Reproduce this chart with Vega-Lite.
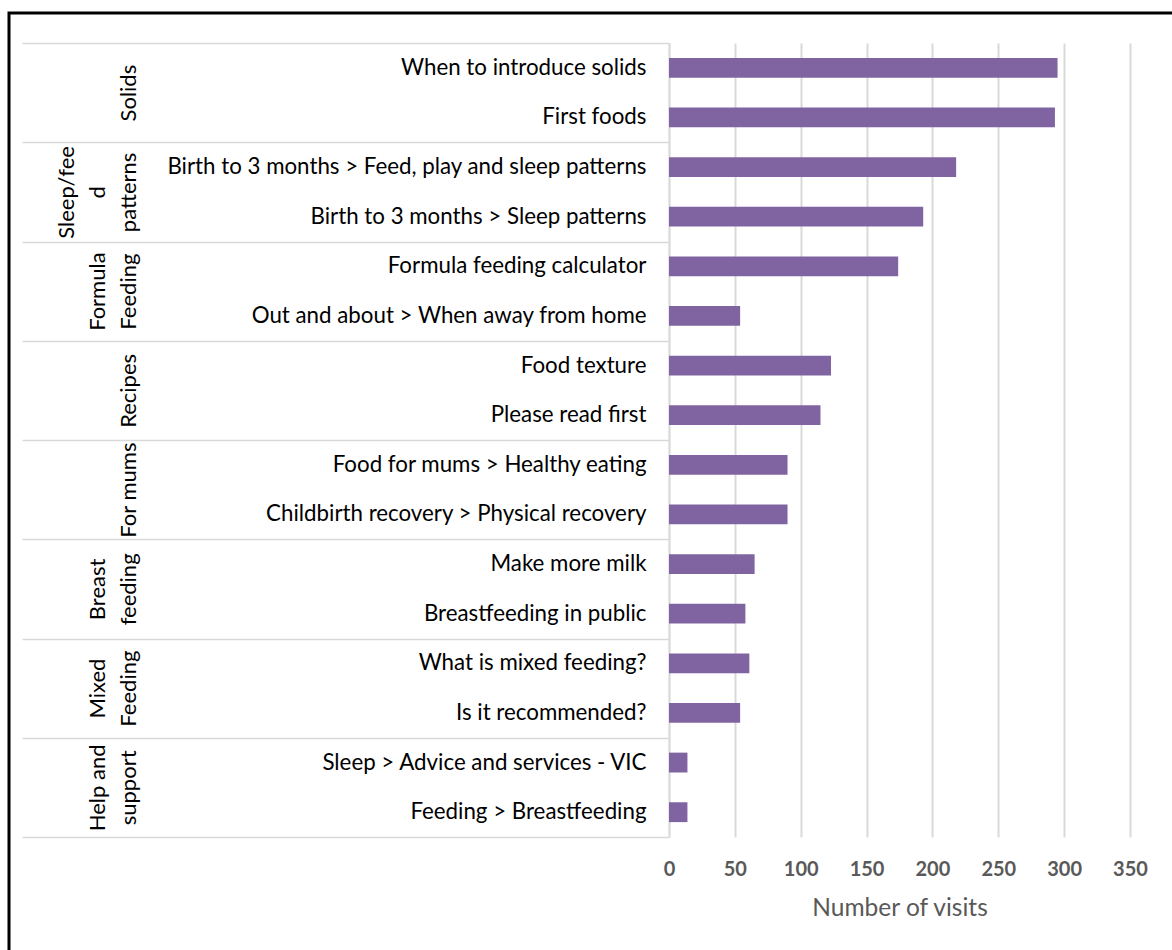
{
  "$schema": "https://vega.github.io/schema/vega-lite/v6.json",
  "autosize": {"type": "none"},
  "width": 1166,
  "height": 940,
  "padding": {"left": 9, "top": 13, "right": -3, "bottom": -3},
  "background": "white",
  "config": {"font": "Lato", "view": {"stroke": "#000000", "strokeWidth": 3}},
  "data": {"values": [
    {"group": "Solids", "item": "When to introduce solids", "visits": 295},
    {"group": "Solids", "item": "First foods", "visits": 293},
    {"group": "Sleep/feed patterns", "item": "Birth to 3 months > Feed, play and sleep patterns", "visits": 218},
    {"group": "Sleep/feed patterns", "item": "Birth to 3 months > Sleep patterns", "visits": 193},
    {"group": "Formula Feeding", "item": "Formula feeding calculator", "visits": 174},
    {"group": "Formula Feeding", "item": "Out and about > When away from home", "visits": 54},
    {"group": "Recipes", "item": "Food texture", "visits": 123},
    {"group": "Recipes", "item": "Please read first", "visits": 115},
    {"group": "For mums", "item": "Food for mums > Healthy eating", "visits": 90},
    {"group": "For mums", "item": "Childbirth recovery > Physical recovery", "visits": 90},
    {"group": "Breast feeding", "item": "Make more milk", "visits": 65},
    {"group": "Breast feeding", "item": "Breastfeeding in public ", "visits": 58},
    {"group": "Mixed Feeding", "item": "What is mixed feeding?", "visits": 61},
    {"group": "Mixed Feeding", "item": "Is it recommended?", "visits": 54},
    {"group": "Help and support", "item": "Sleep > Advice and services - VIC", "visits": 14},
    {"group": "Help and support", "item": "Feeding > Breastfeeding", "visits": 14}
  ]},
  "layer": [
    {
      "mark": {"type": "bar", "color": "#8064a2", "height": {"band": 0.4}},
      "encoding": {
        "y": {
          "field": "item", "type": "nominal", "sort": null,
          "scale": {"range": [30, 824], "paddingInner": 0, "paddingOuter": 0},
          "axis": {"orient": "left", "offset": -660, "title": null, "ticks": false, "domain": true, "domainColor": "#d9d9d9", "domainWidth": 1.5, "labelFontSize": 22.3, "labelColor": "#000000", "labelPadding": 23, "labelLimit": 700, "grid": false}
        },
        "x": {
          "field": "visits", "type": "quantitative",
          "scale": {"domain": [0, 350], "range": [660, 1121], "nice": false, "zero": false},
          "axis": {"orient": "top", "offset": 0, "values": [0, 50, 100, 150, 200, 250, 300, 350], "grid": true, "gridColor": "#d9d9d9", "gridWidth": 2, "ticks": false, "domain": false, "labels": false, "title": null}
        }
      }
    },
    {
      "mark": {"type": "point", "opacity": 0},
      "encoding": {
        "x": {
          "field": "visits", "type": "quantitative",
          "scale": {"domain": [0, 350], "range": [660, 1121], "nice": false, "zero": false},
          "axis": {"orient": "bottom", "values": [0, 50, 100, 150, 200, 250, 300, 350], "grid": false, "ticks": false, "domain": false, "offset": -116, "labelFlush": false, "labelFontSize": 20, "labelFontWeight": "bold", "labelColor": "#595959", "labelPadding": 22, "title": "Number of visits", "titleFontSize": 24.5, "titleFontWeight": "normal", "titleColor": "#595959", "titlePadding": 17}
        },
        "y": {
          "field": "group", "type": "nominal", "sort": null,
          "scale": {"range": [30, 824], "paddingInner": 0, "paddingOuter": 0},
          "axis": {"orient": "left", "offset": -660, "title": null, "domain": false, "ticks": true, "tickBand": "extent", "tickSize": 647, "tickColor": "#d9d9d9", "tickWidth": 1.5, "grid": false, "labelAngle": 270, "labelAlign": "center", "labelBaseline": "bottom", "labelFontSize": 22, "labelColor": "#000000", "labelLineHeight": 31, "labelLimit": 300,
            "labelPadding": {"condition": [{"test": "datum.label == 'Sleep/feed patterns'", "value": -56}, {"test": "indexof(['Help and support', 'Formula Feeding', 'Breast feeding', 'Mixed Feeding'], datum.label) >= 0", "value": -87}], "value": -118},
            "labelExpr": "datum.label == 'Sleep/feed patterns' ? ['Sleep/fee', 'd', 'patterns'] : datum.label == 'Help and support' ? ['Help and', 'support'] : (datum.label == 'Formula Feeding' || datum.label == 'Breast feeding' || datum.label == 'Mixed Feeding') ? split(datum.label, ' ') : datum.label"}
        }
      }
    }
  ],
  "resolve": {"scale": {"y": "independent"}, "axis": {"y": "independent", "x": "independent"}}
}
